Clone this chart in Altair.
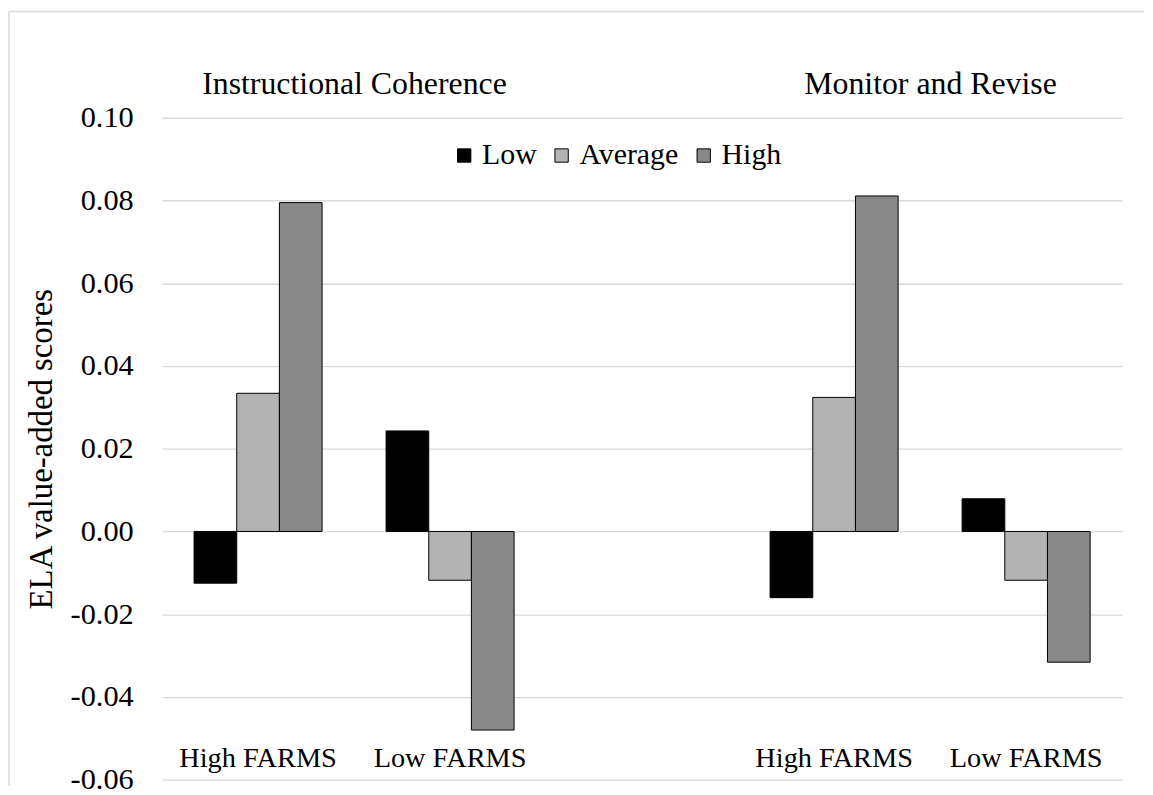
import json
import altair as alt
import pandas as pd

# ---- data ----
levels = ["Low", "Average", "High"]
level_colors = ["#000000", "#b3b3b3", "#898989"]
slot_labels = ["High FARMS", "Low FARMS", "", "High FARMS", "Low FARMS"]
slot_ids = [0, 1, 2, 3, 4]
panel_titles = ["Instructional Coherence", "Monitor and Revise"]
panel_first_slot = [0, 3]

ic_high_farms = [-0.0125, 0.0334, 0.0795]
ic_low_farms = [0.0243, -0.0118, -0.0480]
mr_high_farms = [-0.0160, 0.0324, 0.0811]
mr_low_farms = [0.0079, -0.0118, -0.0316]

y_ticks = [-0.06, -0.04, -0.02, 0.0, 0.02, 0.04, 0.06, 0.08, 0.10]

FONT = "Liberation Serif"

rows = []
for slot, vals in [(0, ic_high_farms), (1, ic_low_farms), (3, mr_high_farms), (4, mr_low_farms)]:
    for lvl, v in zip(levels, vals):
        rows.append({"slot": slot, "level": lvl, "value": v})
df = pd.DataFrame(rows)
titles_df = pd.DataFrame({"title": panel_titles, "slot": panel_first_slot})

x_label_expr = json.dumps(slot_labels) + "[datum.value]"
y_label_expr = "(datum.value < -0.000001 ? '-' : '') + format(abs(datum.value), '.2f')"

x_scale = alt.Scale(domain=slot_ids, paddingInner=0.3333, paddingOuter=0.1667)

bars = alt.Chart(df).mark_bar(stroke="black", strokeWidth=1).encode(
    x=alt.X(
        "slot:O",
        scale=x_scale,
        axis=alt.Axis(
            title=None, labelExpr=x_label_expr, grid=False, domain=False,
            ticks=False, tickSize=0, labelPadding=-36, labelFontSize=28.5,
            labelFont=FONT, labelAngle=0, labelColor="black", labelOverlap=False,
        ),
    ),
    xOffset=alt.XOffset(
        "level:N", sort=levels,
        scale=alt.Scale(domain=levels, paddingInner=0, paddingOuter=0),
    ),
    y=alt.Y(
        "value:Q",
        scale=alt.Scale(domain=[-0.06, 0.10], nice=False),
        axis=alt.Axis(
            values=y_ticks, labelExpr=y_label_expr, title="ELA value-added scores",
            grid=True, gridColor="#d9d9d9", gridWidth=1.3, domain=False,
            ticks=False, tickSize=0, labelPadding=29, labelFontSize=30.5,
            labelFont=FONT, labelColor="black", titleFont=FONT, titleFontSize=33,
            titleFontWeight="normal", titleColor="black", titlePadding=12,
        ),
    ),
    color=alt.Color(
        "level:N",
        sort=levels,
        scale=alt.Scale(domain=levels, range=level_colors),
        legend=alt.Legend(
            title=None, orient="none", legendX=289, legendY=23,
            direction="horizontal", symbolType="square", symbolSize=180,
            symbolStrokeColor="black", symbolStrokeWidth=1, symbolOpacity=1,
            labelFontSize=30, labelFont=FONT, labelColor="black",
            columnPadding=10, labelOffset=3,
        ),
    ),
)

titles = alt.Chart(titles_df).mark_text(
    dx=97, fontSize=32, font=FONT, baseline="middle", align="center", color="black"
).encode(
    x=alt.X("slot:O", scale=x_scale),
    y=alt.value(-34),
    text="title:N",
)

frame_src = alt.Chart(pd.DataFrame({"k": [0]})).mark_rule(color="#d9d9d9", strokeWidth=1.5)
frame_top = frame_src.encode(x=alt.value(-154), x2=alt.value(988), y=alt.value(-107))
frame_left = frame_src.encode(x=alt.value(-154), y=alt.value(-107), y2=alt.value(672))

chart = (
    alt.layer(frame_top, frame_left, bars, titles)
    .properties(width=966, height=666, padding=0)
    .configure(font=FONT)
    .configure_axis(labelFont=FONT, titleFont=FONT)
    .configure_legend(labelFont=FONT)
    .configure_text(font=FONT)
    .configure_view(stroke=None)
)

chart.save("out.html", embed_options={"renderer": "svg", "actions": False})
